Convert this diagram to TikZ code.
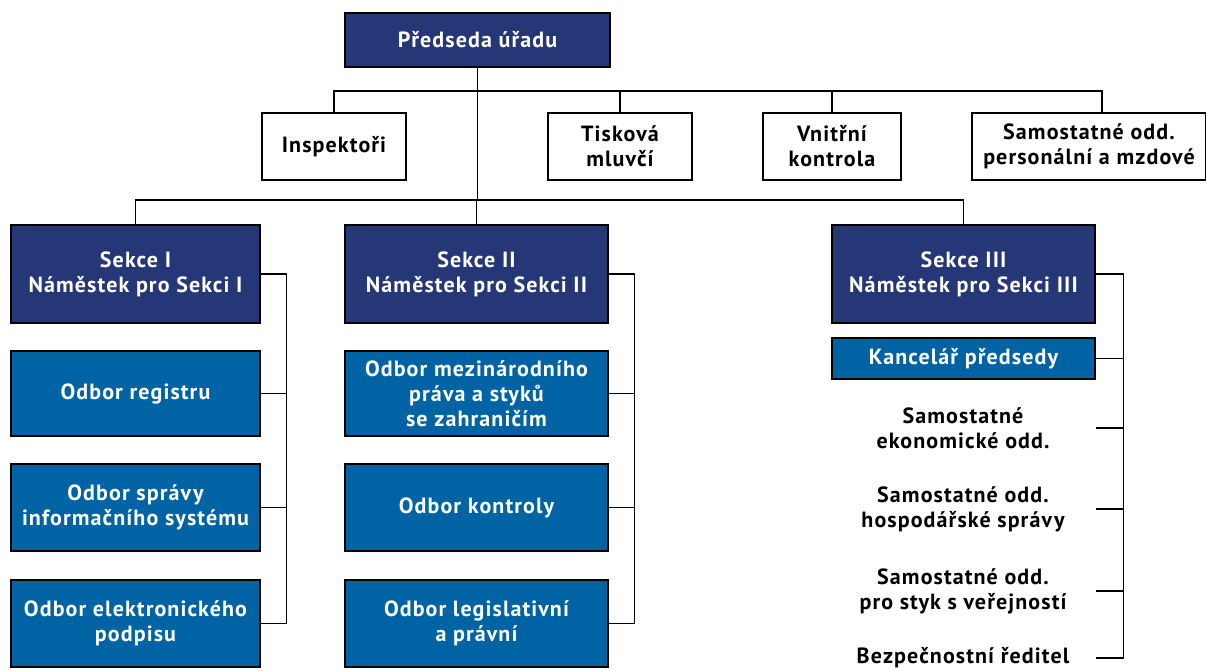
\documentclass[tikz,border=0pt]{standalone}
\usepackage{fontspec}
\setmainfont{PT Sans}[LetterSpace=5]
\definecolor{navy}{RGB}{38,55,120}
\definecolor{odborblue}{RGB}{0,99,163}
\begin{document}
\begin{tikzpicture}[x=1pt, y=-1pt, line width=1.1pt,
    box/.style={draw=black, inner sep=0pt, align=center,
      font=\fontsize{22}{25}\selectfont\bfseries},
    vedeni/.style={box, fill=navy, text=white},
    odbor/.style={box, fill=odborblue, text=white},
    stab/.style={box, fill=white, minimum height=67pt},
    volny/.style={inner sep=0pt, align=center,
      font=\fontsize{22}{25}\selectfont\bfseries}]
  \useasboundingbox (0,0) rectangle (1206,671);
  % vedeni
  \node[vedeni, minimum width=265pt, minimum height=54pt] (pred) at (477.5,40) {Předseda úřadu};
  \node[stab, minimum width=144pt] (insp) at (334,146.5) {Inspektoři};
  \node[stab, minimum width=144pt] (tisk) at (620,146.5) {Tisková\\mluvčí};
  \node[stab, minimum width=138pt] (vnit) at (832,146.5) {Vnitřní\\kontrola};
  \node[stab, minimum width=234pt] (pers) at (1089,146.5) {Samostatné odd.\\personální a mzdové};
  \coordinate (tee1) at (477.5,91);
  \coordinate (tee2) at (477.5,200);
  \draw (pred.south) -- (tee2);
  \foreach \n in {insp,tisk,vnit} \draw (tee1) -| (\n.north);
  \draw (tee1) -| ([xshift=13pt]pers.north);
  % sekce
  \node[vedeni, minimum width=249pt, minimum height=98pt] (s1) at (135.5,274) {Sekce I\\Náměstek pro Sekci I};
  \node[vedeni, minimum width=263pt, minimum height=98pt] (s2) at (476.5,274) {Sekce II\\Náměstek pro Sekci II};
  \node[vedeni, minimum width=263pt, minimum height=98pt] (s3) at (963.5,274) {Sekce III\\Náměstek pro Sekci III};
  \foreach \n in {s1,s2,s3} \draw (tee2) -| (\n.north);
  % sekce I
  \node[odbor, minimum width=249pt, minimum height=85pt] (o11) at (135.5,393.5) {Odbor registru};
  \node[odbor, minimum width=249pt, minimum height=87pt] (o12) at (135.5,507.5) {Odbor správy\\informačního systému};
  \node[odbor, minimum width=249pt, minimum height=87pt] (o13) at (135.5,623.5) {Odbor elektronického\\podpisu};
  \draw (s1.east) -- ++(26,0) |- (o13.east);
  \foreach \n in {o11,o12} \draw (\n.east) -- ++(26,0);
  % sekce II
  \node[odbor, minimum width=263pt, minimum height=85pt] (o21) at (476.5,393.5) {Odbor mezinárodního\\práva a styků\\se zahraničím};
  \node[odbor, minimum width=263pt, minimum height=87pt] (o22) at (476.5,507.5) {Odbor kontroly};
  \node[odbor, minimum width=263pt, minimum height=87pt] (o23) at (476.5,623.5) {Odbor legislativní\\a právní};
  \draw (s2.east) -- ++(26,0) |- (o23.east);
  \foreach \n in {o21,o22} \draw (\n.east) -- ++(26,0);
  % sekce III
  \node[odbor, minimum width=263pt, minimum height=41pt] (kanc) at (963.5,358.5) {Kancelář předsedy};
  \node[volny, text=black] (ekon) at (963,428) {Samostatné\\ekonomické odd.};
  \node[volny, text=black] (hosp) at (963,509) {Samostatné odd.\\hospodářské správy};
  \node[volny, text=black] (styk) at (963,591) {Samostatné odd.\\pro styk s veřejností};
  \node[volny, text=black] (bezp) at (963,658) {Bezpečnostní ředitel};
  \draw (s3.east) -- ++(28,0) |- (s3.east |- bezp);
  \foreach \n in {kanc,ekon,hosp,styk} \draw (s3.east |- \n) -- ++(28,0);
\end{tikzpicture}
\end{document}
